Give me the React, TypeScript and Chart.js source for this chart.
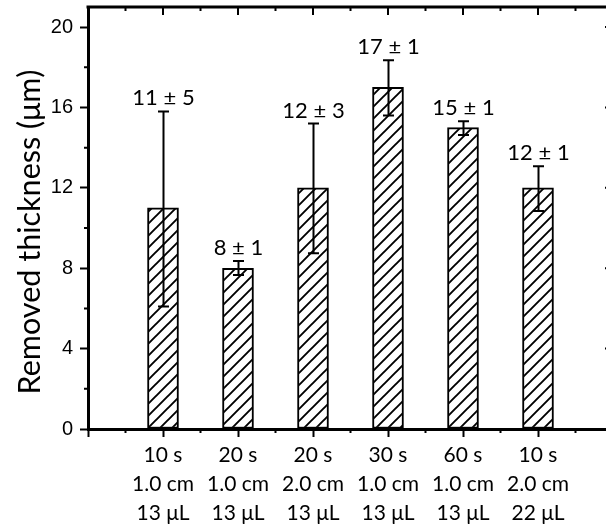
import React, { useEffect, useRef } from 'react';
import { Chart, registerables } from 'chart.js';

Chart.register(...registerables);

// ---- data ----
const categories: string[][] = [
  ['10 s', '1.0 cm', '13 μL'],
  ['20 s', '1.0 cm', '13 μL'],
  ['20 s', '2.0 cm', '13 μL'],
  ['30 s', '1.0 cm', '13 μL'],
  ['60 s', '1.0 cm', '13 μL'],
  ['10 s', '2.0 cm', '22 μL'],
];
const means = [11, 8, 12, 17, 15, 12];
const errHigh = [15.8, 8.36, 15.2, 18.35, 15.32, 13.08];
const errLow = [6.1, 7.66, 8.75, 15.6, 14.63, 10.85];
const sds = [5, 1, 3, 1, 1, 1];
const yMajorTicks = [0, 4, 8, 12, 16, 20];
const yMinorTicks = [2, 6, 10, 14, 18];
const yTitle = 'Removed thickness (μm)';

const CAT_FONT = 'Lato';
const NUM_FONT = 'Liberation Sans';

function makeHatch(): CanvasPattern | string {
  const c = document.createElement('canvas');
  const s = 12;
  c.width = s;
  c.height = s;
  const g = c.getContext('2d');
  if (!g) return '#fff';
  g.fillStyle = '#fff';
  g.fillRect(0, 0, s, s);
  g.strokeStyle = '#000';
  g.lineWidth = 1.9;
  g.beginPath();
  for (let k = -1; k <= 1; k++) {
    g.moveTo(k * s - 2, s + 2);
    g.lineTo(k * s + s + 2, -2);
  }
  g.stroke();
  const p = g.createPattern(c, 'repeat');
  return p || '#fff';
}

const framePlugin = {
  id: 'frameAndExtras',
  afterDatasetsDraw(chart: any) {
    const ctx = chart.ctx;
    const meta = chart.getDatasetMeta(0);
    const ys = chart.scales.y;
    ctx.save();
    ctx.strokeStyle = '#000';
    ctx.fillStyle = '#000';
    ctx.lineWidth = 2;
    meta.data.forEach((bar: any, i: number) => {
      const idx = i - 1;
      if (idx < 0 || idx >= means.length) return;
      const x = Math.round(bar.x) + 0.5;
      const yt = ys.getPixelForValue(errHigh[idx]);
      const yb = ys.getPixelForValue(errLow[idx]);
      ctx.beginPath();
      ctx.moveTo(x, yt);
      ctx.lineTo(x, yb);
      ctx.moveTo(x - 5.5, yt);
      ctx.lineTo(x + 5.5, yt);
      ctx.moveTo(x - 5.5, yb);
      ctx.lineTo(x + 5.5, yb);
      ctx.stroke();
      ctx.font = `22px ${CAT_FONT}`;
      ctx.textAlign = 'center';
      ctx.textBaseline = 'alphabetic';
      ctx.fillText(`${means[idx]} ± ${sds[idx]}`, x, yt - 6);
    });
    ctx.restore();
  },
  afterDraw(chart: any) {
    const ctx = chart.ctx;
    const { left, right, top, bottom } = chart.chartArea;
    const xs = chart.scales.x;
    const ys = chart.scales.y;
    ctx.save();
    ctx.strokeStyle = '#000';
    // top and right frame lines
    ctx.lineWidth = 3;
    ctx.beginPath();
    ctx.moveTo(left - 1.5, top);
    ctx.lineTo(right, top);
    ctx.lineTo(right, bottom);
    ctx.stroke();
    ctx.lineWidth = 2;
    ctx.beginPath();
    const n = xs.getLabels().length;
    for (let i = 0; i < n; i++) {
      const px = xs.getPixelForValue(i);
      // top major (inward)
      ctx.moveTo(px, top);
      ctx.lineTo(px, top + 8);
      if (i < n - 1) {
        const mx = xs.getPixelForValue(i + 0.5);
        // top minor (inward)
        ctx.moveTo(mx, top);
        ctx.lineTo(mx, top + 4);
        // bottom minor (outward)
        ctx.moveTo(mx, bottom);
        ctx.lineTo(mx, bottom + 4);
      }
    }
    yMajorTicks.forEach((v) => {
      const py = ys.getPixelForValue(v);
      ctx.moveTo(right, py);
      ctx.lineTo(right - 8, py);
    });
    yMinorTicks.forEach((v) => {
      const py = ys.getPixelForValue(v);
      ctx.moveTo(left, py);
      ctx.lineTo(left - 4, py);
      ctx.moveTo(right, py);
      ctx.lineTo(right - 4, py);
    });
    ctx.stroke();

    // y axis title
    let size = 30;
    ctx.font = `${size}px ${CAT_FONT}`;
    const w = ctx.measureText(yTitle).width;
    size = size * 325 / w;
    ctx.font = `${size}px ${CAT_FONT}`;
    ctx.fillStyle = '#000';
    ctx.translate(30, 232);
    ctx.rotate(-Math.PI / 2);
    ctx.textAlign = 'center';
    ctx.textBaseline = 'middle';
    ctx.fillText(yTitle, 0, 0);
    ctx.restore();
  },
};

export default function App() {
  const ref = useRef<HTMLCanvasElement | null>(null);
  useEffect(() => {
    if (!ref.current) return;
    const labels: any[] = ['', ...categories, ''];
    const data: (number | null)[] = [null, ...means, null];
    const chart = new Chart(ref.current, {
      type: 'bar',
      data: {
        labels,
        datasets: [
          {
            data,
            backgroundColor: makeHatch() as any,
            borderColor: '#000',
            borderWidth: 2,
            borderSkipped: false,
            barThickness: 31,
          },
        ],
      },
      options: {
        animation: false,
        responsive: false,
        devicePixelRatio: 1,
        layout: { padding: { left: 0, top: 7, right: 7, bottom: 0 } },
        plugins: { legend: { display: false }, tooltip: { enabled: false }, title: { display: false } },
        scales: {
          x: {
            type: 'category',
            offset: false,
            grid: {
              offset: false,
              drawOnChartArea: false,
              drawTicks: true,
              tickLength: 8,
              tickWidth: 2,
              tickColor: '#000',
            },
            border: { display: true, color: '#000', width: 3 },
            ticks: {
              autoSkip: false,
              maxRotation: 0,
              minRotation: 0,
              padding: 4,
              color: '#000',
              font: { family: CAT_FONT, size: 21, lineHeight: 1.38 },
            },
            afterFit: (s: any) => {
              s.height = 99;
              s.paddingLeft = 0;
              s.paddingRight = 0;
            },
          },
          y: {
            type: 'linear',
            min: 0,
            max: 21,
            grid: {
              drawOnChartArea: false,
              drawTicks: true,
              tickLength: 8,
              tickWidth: 2,
              tickColor: '#000',
            },
            border: { display: true, color: '#000', width: 3 },
            ticks: {
              stepSize: 4,
              includeBounds: false,
              padding: 7,
              color: '#000',
              font: { family: NUM_FONT, size: 20 },
            },
            afterFit: (s: any) => {
              s.width = 88;
              s.paddingTop = 0;
              s.paddingBottom = 0;
            },
          },
        },
      },
      plugins: [framePlugin],
    });
    return () => chart.destroy();
  }, []);
  return (
    <div style={{ position: 'fixed', left: 0, top: 0, width: 606, height: 528, overflow: 'hidden', background: '#fff' }}>
      <canvas ref={ref} width={620} height={528} style={{ display: 'block' }} />
    </div>
  );
}
